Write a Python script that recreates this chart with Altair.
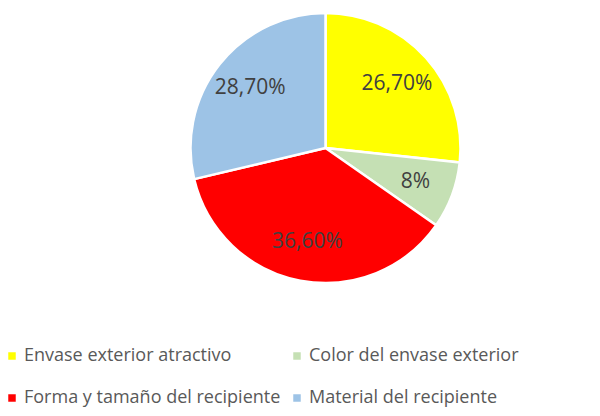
import altair as alt
import pandas as pd

categories = ["Envase exterior atractivo", "Color del envase exterior",
              "Forma y tamaño del recipiente", "Material del recipiente"]
values = [26.7, 8.0, 36.6, 28.7]
labels = ["26,70%", "8%", "36,60%", "28,70%"]
colors = ["#FFFF00", "#C5E0B4", "#FF0000", "#9DC3E6"]

df = pd.DataFrame({"cat": categories, "value": values, "label": labels,
                   "order": list(range(len(categories)))})

cx, cy = 317.5, 140

base = alt.Chart(df).encode(
    theta=alt.Theta("value:Q", stack=True),
    order=alt.Order("order:Q"),
)

arcs = base.mark_arc(outerRadius=135, stroke="white", strokeWidth=2.5).encode(
    x=alt.value(cx), y=alt.value(cy),
    color=alt.Color("cat:N", sort=categories,
                    scale=alt.Scale(domain=categories, range=colors),
                    legend=alt.Legend(
                        title=None, orient="none", legendX=-5, legendY=339,
                        direction="horizontal", padding=0,
                        columns=2, symbolType="square", symbolSize=56,
                        symbolStrokeWidth=0, labelFont="Open Sans",
                        labelFontSize=18, labelColor="#595959",
                        labelOffset=3, labelLimit=400, columnPadding=7,
                        rowPadding=24, symbolOffset=0)),
)

text = base.mark_text(radius=96, font="Open Sans", fontSize=21,
                      color="#404040").encode(
    x=alt.value(cx), y=alt.value(cy),
    text="label:N",
)

chart = (arcs + text).properties(
    width=584, height=400, padding=0,
    autosize=alt.AutoSizeParams(type="none"),
).configure_view(stroke=None)

chart.save("out.html", embed_options={"renderer": "svg", "actions": False})
